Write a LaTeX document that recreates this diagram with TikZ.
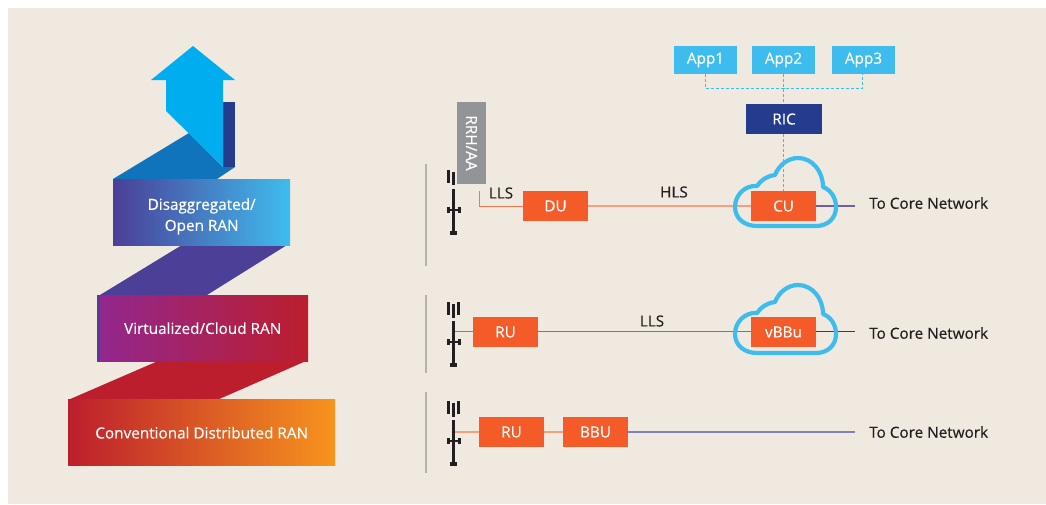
\documentclass[tikz,border=0pt]{standalone}
\usepackage{fontspec}
\setmainfont{Open Sans}[FakeBold=0.35,AutoFakeBold=0.35]
\usetikzlibrary{calc}
\definecolor{bg}{HTML}{F0E9E0}
\definecolor{orangebox}{HTML}{F55B28}
\definecolor{skyb}{HTML}{3FBCEE}
\definecolor{navy}{HTML}{253B8E}
\definecolor{arrowb}{HTML}{00AEEF}
\definecolor{midb}{HTML}{1074BC}
\definecolor{purp}{HTML}{4B3F98}
\definecolor{crim}{HTML}{BC1E2D}
\definecolor{magen}{HTML}{92278F}
\definecolor{amber}{HTML}{F7941D}
\definecolor{ink}{HTML}{231F20}
\definecolor{greyb}{HTML}{929497}
\definecolor{vline}{HTML}{B5B2AB}
\definecolor{lineo}{HTML}{F4A080}
\definecolor{lineb}{HTML}{8180BC}
\pgfdeclarelayer{under}
\pgfsetlayers{under,main}
\newcommand{\lblfont}{\bfseries\fontsize{15.3}{16}\selectfont}
\tikzset{
  x=1pt,y=-1pt,
  fnbox/.style={fill=orangebox,text=white,minimum width=65pt,minimum height=30pt,inner sep=0pt,font=\lblfont},
  appbox/.style={fill=skyb,text=white,minimum width=63pt,minimum height=28pt,inner sep=0pt,font=\lblfont},
  ranbox/.style={inner sep=0pt,text=white,font=\bfseries\fontsize{15.3}{21}\selectfont,align=center,shading angle=90},
  lbl/.style={text=ink,inner sep=0pt,font=\lblfont},
  corelbl/.style={text=ink,inner sep=0pt,anchor=west,font=\lblfont},
  dash link/.style={draw=skyb,line width=.9pt,densely dashed},
  cloudline/.style={draw=skyb,line width=4.2pt,line join=round},
  tier/.style={draw=vline,line width=1.2pt},
  orl/.style={draw=lineo,line width=1.4pt},
}
\newcommand{\towerglyph}[2]{%
  \begin{scope}[shift={(#1,#2)}]
    \fill[ink] (-1.4,0) rectangle (1.4,46);
    \fill[ink] (-6,20) rectangle (6,22.4);
    \fill[ink] (-7,18.3) rectangle (-3.8,24.1);
    \fill[ink] (3.8,18.3) rectangle (7,24.1);
    \fill[ink] (-3.6,42) rectangle (3.6,46);
  \end{scope}
}
\newcommand{\cloudshape}[1]{%
  \draw[cloudline,shift={(0,#1)}] (757,226)
    .. controls (744,226) and (735,218) .. (735,207)
    .. controls (735,195) and (745,185) .. (757,186)
    .. controls (761,180) and (767,176) .. (775,175)
    .. controls (779,165) and (788,158) .. (798,158)
    .. controls (812,158) and (823,171) .. (823,187)
    .. controls (831,190) and (836,198) .. (836,207)
    .. controls (836,218) and (828,226) .. (816,226)
    -- cycle;
}
\begin{document}
\begin{tikzpicture}
\useasboundingbox (0,0) rectangle (1046,504);
\begin{pgfonlayer}{under}
\fill[white] (0,0) rectangle (1046,504);
\fill[bg] (8,8) rectangle (1046,504);
\end{pgfonlayer}

% ribbons
\fill[midb] (113,179) -- (189,133) -- (223,167) -- (235,167) -- (217,179) -- cycle;
\fill[navy] (223,102) rectangle (235,167);
\fill[arrowb] (193,46) -- (151,80) -- (166,80) -- (166,111) -- (223,167) -- (223,80) -- (235,80) -- cycle;
\fill[purp] (100,295) -- (182,245) -- (287,245) -- (207,295) -- cycle;
\fill[crim] (68,400) -- (158,361) -- (306,361) -- (217,400) -- cycle;

\node[ranbox,left color=purp,right color=skyb,minimum width=177pt,minimum height=66pt,anchor=north west] (dis) at (113,179) {\rule{0pt}{20pt}Disaggregated/\\Open RAN};
\node[ranbox,left color=magen,right color=crim,minimum width=211pt,minimum height=66pt,anchor=north west] (vir) at (97,295) {Virtualized/Cloud RAN};
\fill[purp] (97,295) rectangle (100,361);
\node[ranbox,left color=crim,right color=amber,minimum width=267pt,minimum height=66pt,anchor=north west] (con) at (68,399.5) {Conventional Distributed RAN};

% tier dividers
\draw[tier] (426,164) -- (426,266);
\draw[tier] (426,295) -- (426,373);
\draw[tier] (426,392) -- (426,473);

% masts
\towerglyph{453.7}{189}
\towerglyph{453.7}{321}
\towerglyph{453.7}{420}
\fill[ink] (447,170) rectangle (450,183);
\fill[ink] (452,172) rectangle (455,185);
\foreach \yy in {302,401}{
  \fill[ink] (447,\yy) rectangle (450,\yy+13);
  \fill[ink] (452,\yy+2) rectangle (455,\yy+16);
  \fill[ink] (457,\yy) rectangle (460,\yy+13);
}

% Row 1
\node[fill=greyb,text=white,minimum width=82pt,minimum height=29pt,inner sep=0pt,rotate=-90,font=\lblfont] (rrh) at (471.5,143) {RRH/AA};
\node[fnbox] (du) at (555.5,206) {DU};
\node[fnbox] (cu) at (783.5,206) {CU};
\node[lbl] (lls1) at (501,193) {LLS};
\node[lbl] (hls) at (674,192) {HLS};
\coordinate (c1) at (479.5,191);
\coordinate (e1) at (855,206);
\node[corelbl] (t1) at (869,203) {To Core Network};
\node[appbox] (a1) at (705.5,60) {App1};
\node[appbox] (a2) at (783.5,60) {App2};
\node[appbox] (a3) at (863.5,60) {App3};
\node[fill=navy,text=white,minimum width=76pt,minimum height=30pt,inner sep=0pt,font=\lblfont] (ric) at (784,119) {RIC};
\coordinate (bus) at (783.5,88.5);

% Row 2
\node[fnbox] (ru2) at (505.5,332) {RU};
\node[fnbox] (vb) at (783.5,332) {vBBu};
\node[lbl] (lls2) at (652,321) {LLS};
\coordinate (m2) at (453.7,331.5);
\coordinate (e2) at (855,331.5);
\node[corelbl] (t2) at (869,333) {To Core Network};

% Row 3
\node[fnbox] (ru3) at (511.5,432) {RU};
\node[fnbox] (bbu) at (595.5,432) {BBU};
\coordinate (m3) at (453.7,432);
\coordinate (e3) at (855,432);
\node[corelbl] (t3) at (869,432) {To Core Network};

\begin{pgfonlayer}{under}
\draw[draw=orangebox!80!bg,line width=1pt] (c1) |- (du.west);
\draw[orl] (du.east) -- (cu.west);
\draw[draw=purp!80!bg,line width=1.4pt] (cu.east) -- (e1);
\draw[draw=orangebox,line width=.9pt] (m2) -- (ru2.west |- m2);
\draw[draw=orangebox!90!ink,line width=.9pt] (ru2.east |- m2) -- (vb.west |- m2);
\draw[draw=navy,line width=.9pt] (vb.east |- m2) -- (e2);
\draw[orl] (m3) -- (ru3.west);
\draw[orl] (ru3.east) -- (bbu.west);
\draw[draw=lineb,line width=1.4pt] (bbu.east) -- (e3);
\cloudshape{0}
\cloudshape{127}
\draw[dash link] ([xshift=-.5pt]a1.south) |- (bus) -| ([xshift=-1.5pt]a3.south);
\draw[dash link] (a2.south) -- (bus) -- (bus |- ric.north);
\draw[dash link] (bus |- ric.south) -- (cu.north);
\end{pgfonlayer}
\end{tikzpicture}
\end{document}
